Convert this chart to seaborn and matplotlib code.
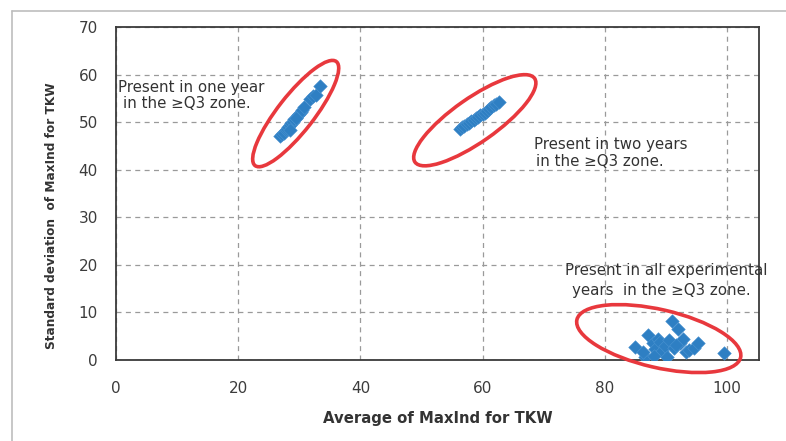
import numpy as np
import pandas as pd
import matplotlib
matplotlib.use("Agg")
import matplotlib.pyplot as plt
import matplotlib.transforms as mtransforms
from matplotlib.patches import Ellipse
from matplotlib.lines import Line2D
from matplotlib.ticker import MultipleLocator
import seaborn as sns

# ---- data ----
one_year_x = [26.9, 27.2, 27.5, 27.8, 28.0, 28.2, 28.5, 28.7, 29.0, 29.2, 29.5, 29.7, 30.0, 30.2, 30.5, 30.8, 28.4, 29.4,
              31.8, 32.2, 32.7, 33.3]
one_year_y = [47.0, 47.5, 47.8, 48.3, 48.6, 49.0, 49.3, 49.8, 50.1, 50.6, 50.9, 51.4, 51.7, 52.2, 52.6, 53.1, 48.4, 50.8,
              54.8, 55.4, 55.8, 57.7]

two_years_x = [56.2, 56.6, 57.0, 57.4, 57.8, 58.1, 58.5, 58.9, 59.2, 59.6, 60.0, 60.3, 60.7, 61.0, 61.4, 61.8, 62.2, 62.7]
two_years_y = [48.6, 48.9, 49.2, 49.6, 49.9, 50.2, 50.5, 50.8, 51.1, 51.4, 51.7, 52.0, 52.3, 52.7, 53.1, 53.5, 53.9, 54.2]

all_years_x = [84.9, 86.6, 87.1, 87.8, 88.2, 88.6, 89.0, 89.4, 89.8, 90.1, 90.5, 90.9, 91.3, 92.0, 92.3, 92.8, 93.2, 93.7,
               94.6, 95.3, 99.4, 86.2, 88.0, 91.6]
all_years_y = [2.8, 0.7, 5.3, 3.6, 2.4, 4.4, 3.8, 1.8, 2.9, 0.7, 4.1, 8.3, 2.6, 6.6, 3.5, 4.5, 1.6, 2.1,
               2.6, 3.5, 1.5, 1.6, 0.9, 3.2]

x_ticks = [0, 20, 40, 60, 80, 100]
y_ticks = [0, 10, 20, 30, 40, 50, 60, 70]

labels = ["Present in one year\nin the \u2265Q3 zone.",
          "Present in two years\nin the \u2265Q3 zone.",
          "Present in all experimental\nyears  in the \u2265Q3 zone."]

df = pd.DataFrame({
    "x": one_year_x + two_years_x + all_years_x,
    "y": one_year_y + two_years_y + all_years_y,
})

sns.set_style("white")
plt.rcParams["font.family"] = ["DejaVu Sans"]

fig = plt.figure(figsize=(7.86, 4.41), dpi=100)
ax = fig.add_axes([116 / 786, 1 - 360 / 441, (759 - 116) / 786, (360 - 27) / 441])

sns.scatterplot(data=df, x="x", y="y", marker="D", s=48, color="#2E7FC3",
                edgecolor="#4a92d0", linewidth=0.4, ax=ax, zorder=3, legend=False)

ax.set_xlim(0, 105.2)
ax.set_ylim(0, 70)
ax.set_xticks(x_ticks)
ax.set_yticks(y_ticks)
ax.xaxis.set_minor_locator(MultipleLocator(5))
ax.grid(True, which="major", color="#9a9a9a", linestyle=(0, (4, 3.5)), linewidth=0.9)
ax.set_axisbelow(True)

for sp in ax.spines.values():
    sp.set_color("#3a3a3a")
    sp.set_linewidth(1.3)

ax.tick_params(axis="both", which="major", direction="out", length=5, width=1.1,
               color="#3a3a3a", labelsize=11, labelcolor="#3c3c3c")
ax.tick_params(axis="x", which="major", direction="inout", length=8, pad=11)
ax.tick_params(axis="x", which="minor", direction="out", length=4, width=1.0, color="#3a3a3a")
ax.tick_params(axis="y", which="major", pad=8)

ax.set_xlabel("Average of MaxInd for TKW", fontsize=10.7, fontweight="bold", color="#333333", labelpad=11)
ax.set_ylabel("Standard deviation  of MaxInd for TKW", fontsize=8.7, fontweight="bold", color="#333333")
ax.yaxis.set_label_coords(-0.090, 0.432)

# annotations: each line positioned separately (x left, y centre in data units)
ann_pos = [
    [(0.25, 57.2), (1.1, 54.0)],
    [(68.4, 45.2), (68.7, 41.7)],
    [(73.5, 18.9), (74.6, 14.7)],
]
for text, pos in zip(labels, ann_pos):
    for line, (tx, ty) in zip(text.split("\n"), pos):
        ax.text(tx, ty, line, fontsize=10.8, color="#333333", va="center", ha="left", clip_on=False)

# ellipses (center in data coords, size in pixels)
def add_ellipse(cx, cy, w_px, h_px, angle):
    tr = fig.dpi_scale_trans + mtransforms.ScaledTranslation(cx, cy, ax.transData)
    e = Ellipse((0, 0), w_px / 100, h_px / 100, angle=angle, transform=tr,
                fill=False, edgecolor="#E8383D", linewidth=2.6, zorder=4, clip_on=False)
    ax.add_patch(e)

add_ellipse(29.4, 51.8, 132, 36, 52)
add_ellipse(58.7, 50.4, 146, 44, 35)
add_ellipse(88.8, 4.5, 168, 58, -13)

# outer frame lines
fig.add_artist(Line2D([12 / 786, 1], [1 - 11 / 441, 1 - 11 / 441], transform=fig.transFigure,
                      color="#bdbdbd", linewidth=1.2))
fig.add_artist(Line2D([12 / 786, 12 / 786], [0, 1 - 11 / 441], transform=fig.transFigure,
                      color="#bdbdbd", linewidth=1.2))

fig.savefig("out.png", dpi=100)
